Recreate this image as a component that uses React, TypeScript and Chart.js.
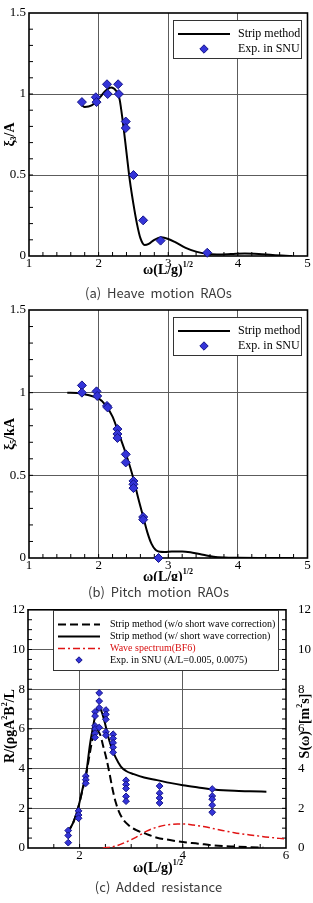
import React, { useEffect, useRef } from 'react';
import { Chart, registerables } from 'chart.js';

Chart.register(...registerables);

const SERIF = "'Liberation Serif', 'Times New Roman', serif";
const GRID = '#5c5c5c';
const BLUE = '#3434d8';
const BLUE_EDGE = '#15158a';
const W = 313;

// ---------- (a) Heave motion RAOs ----------
const heaveXTicks = [1, 2, 3, 4, 5];
const heaveYTicks = [0, 0.5, 1, 1.5];
const heaveStripX = [1.76, 1.8, 1.9, 2.0, 2.1, 2.18, 2.25, 2.3, 2.35, 2.4, 2.45, 2.5, 2.55, 2.6, 2.66, 2.72, 2.8, 2.9, 3.0, 3.1, 3.25, 3.4, 3.55, 3.7, 3.9, 4.1, 4.3, 4.5, 4.78];
const heaveStripY = [0.93, 0.92, 0.93, 0.97, 1.02, 1.04, 1.02, 0.97, 0.82, 0.64, 0.46, 0.32, 0.2, 0.11, 0.068, 0.075, 0.1, 0.115, 0.105, 0.085, 0.05, 0.027, 0.014, 0.01, 0.012, 0.015, 0.012, 0.006, 0];
const heaveExpX = [1.76, 1.96, 1.97, 2.12, 2.13, 2.28, 2.29, 2.39, 2.39, 2.5, 2.64, 2.89, 3.56];
const heaveExpY = [0.95, 0.98, 0.95, 1.06, 1.0, 1.06, 1.0, 0.83, 0.79, 0.5, 0.22, 0.095, 0.02];

// ---------- (b) Pitch motion RAOs ----------
const pitchStripX = [1.55, 1.7, 1.8, 1.9, 2.0, 2.1, 2.2, 2.3, 2.4, 2.5, 2.57, 2.64, 2.7, 2.76, 2.82, 2.88, 2.95, 3.05, 3.2, 3.35, 3.5, 3.65, 3.8, 4.0, 4.3, 4.8];
const pitchStripY = [1.0, 0.998, 0.99, 0.98, 0.965, 0.925, 0.855, 0.74, 0.62, 0.48, 0.36, 0.25, 0.155, 0.085, 0.048, 0.038, 0.037, 0.04, 0.04, 0.032, 0.02, 0.008, 0.003, 0.001, 0, 0];
const pitchExpX = [1.76, 1.76, 1.97, 1.98, 2.12, 2.13, 2.27, 2.27, 2.27, 2.39, 2.39, 2.5, 2.5, 2.5, 2.64, 2.64, 2.86];
const pitchExpY = [1.044, 1.0, 1.008, 0.98, 0.92, 0.91, 0.78, 0.75, 0.726, 0.627, 0.578, 0.466, 0.446, 0.423, 0.248, 0.232, 0.0];

// ---------- (c) Added resistance ----------
const resXTicks = [1, 2, 4, 6];
const resYTicks = [0, 2, 4, 6, 8, 10, 12];
const resNoCorrX = [1.76, 1.88, 1.98, 2.05, 2.13, 2.2, 2.26, 2.33, 2.4, 2.46, 2.52, 2.58, 2.64, 2.7, 2.76, 2.84, 2.95, 3.1, 3.3, 3.5, 3.75, 4.0, 4.3, 4.6, 5.0, 5.3, 5.56];
const resNoCorrY = [0.75, 1.3, 2.1, 2.85, 3.75, 4.8, 5.6, 5.95, 5.7, 5.1, 4.5, 3.75, 2.95, 2.3, 1.85, 1.45, 1.15, 0.9, 0.7, 0.52, 0.4, 0.3, 0.22, 0.13, 0.07, 0.04, 0.02];
const resCorrX = [1.76, 1.88, 1.98, 2.05, 2.13, 2.2, 2.26, 2.32, 2.37, 2.43, 2.5, 2.56, 2.62, 2.7, 2.8, 2.9, 3.05, 3.25, 3.5, 3.75, 4.0, 4.3, 4.6, 5.0, 5.3, 5.62];
const resCorrY = [0.75, 1.3, 2.1, 2.9, 3.8, 5.2, 6.1, 6.85, 7.1, 6.85, 6.2, 5.55, 5.05, 4.55, 4.1, 3.88, 3.72, 3.55, 3.42, 3.28, 3.16, 3.05, 2.95, 2.88, 2.86, 2.84];
const waveSpecX = [2.45, 2.7, 2.9, 3.1, 3.3, 3.5, 3.7, 3.9, 4.0, 4.2, 4.4, 4.7, 5.0, 5.3, 5.6, 6.0];
const waveSpecY = [0, 0.1, 0.3, 0.55, 0.85, 1.05, 1.17, 1.21, 1.21, 1.16, 1.08, 0.92, 0.77, 0.66, 0.56, 0.45];
const resExpX = [
  1.78, 1.78, 1.78,
  1.98, 1.98, 1.98,
  2.12, 2.12, 2.12,
  2.3, 2.3, 2.3, 2.3, 2.3, 2.3,
  2.38, 2.38, 2.38, 2.38,
  2.51, 2.51, 2.51, 2.51, 2.51,
  2.65, 2.65, 2.65, 2.65, 2.65,
  2.9, 2.9, 2.9, 2.9, 2.9,
  3.55, 3.55, 3.55, 3.55,
  4.57, 4.57, 4.57, 4.57, 4.57,
];
const resExpY = [
  0.88, 0.63, 0.27,
  1.87, 1.66, 1.5,
  3.62, 3.44, 3.26,
  6.86, 6.65, 6.15, 6.0, 5.78, 5.57,
  7.81, 7.4, 7.06, 6.07,
  6.95, 6.73, 6.48, 5.85, 5.68,
  5.73, 5.52, 5.3, 5.07, 4.82,
  3.41, 3.2, 3.0, 2.6, 2.36,
  3.12, 2.76, 2.52, 2.27,
  2.97, 2.62, 2.46, 2.16, 1.8,
];

const SOLID = { color: '#000', width: 2, dash: [] as number[] };
const DASHED = { color: '#000', width: 2, dash: [8, 4] };
const DASHDOT = { color: '#e01414', width: 1.5, dash: [7, 3, 2, 3] };

type Seg = { t: string; k?: 'sup' | 'sub' };
type Area = { left: number; right: number; top: number; bottom: number };
type Title = { segs: Seg[]; x: number; y: number; angle: number };
type LegendRow = { y: number; label: string; line?: typeof SOLID; radius?: number; color?: string };
type Legend = { box: number[]; sample: number[]; textX: number; size: number; rows: LegendRow[] };
type Minor = { axis: string; step: number };
type Decor = { titles: Title[]; minors: Minor[]; legend: Legend };

const pts = (xs: number[], ys: number[]) => xs.map((x, i) => ({ x, y: ys[i] }));

function drawRich(ctx: CanvasRenderingContext2D, segs: Seg[], cx: number, cy: number, size: number, angle: number) {
  ctx.save();
  ctx.translate(cx, cy);
  ctx.rotate(angle);
  ctx.fillStyle = '#000';
  ctx.textBaseline = 'middle';
  ctx.textAlign = 'left';
  const fontFor = (s: Seg) => `bold ${s.k ? Math.round(size * 0.6) : size}px ${SERIF}`;
  let w = 0;
  for (const s of segs) {
    ctx.font = fontFor(s);
    w += ctx.measureText(s.t).width;
  }
  let x = -w / 2;
  for (const s of segs) {
    ctx.font = fontFor(s);
    const dy = s.k === 'sup' ? -size * 0.38 : s.k === 'sub' ? size * 0.3 : 0;
    ctx.fillText(s.t, x, dy);
    x += ctx.measureText(s.t).width;
  }
  ctx.restore();
}

function diamond(ctx: CanvasRenderingContext2D, x: number, y: number, r: number) {
  ctx.beginPath();
  ctx.moveTo(x, y - r);
  ctx.lineTo(x + r, y);
  ctx.lineTo(x, y + r);
  ctx.lineTo(x - r, y);
  ctx.closePath();
  ctx.fillStyle = BLUE;
  ctx.fill();
  ctx.strokeStyle = BLUE_EDGE;
  ctx.lineWidth = 1;
  ctx.stroke();
}

function makeDecor(d: Decor) {
  return {
    id: 'decor',
    beforeDatasetsDraw(chart: any) {
      const ctx: CanvasRenderingContext2D = chart.ctx;
      const { left, right, top, bottom } = chart.chartArea;
      ctx.save();
      ctx.strokeStyle = '#000';
      ctx.lineWidth = 1;
      for (const m of d.minors) {
        const sc = chart.scales[m.axis];
        const n = Math.round((sc.max - sc.min) / m.step);
        ctx.beginPath();
        for (let i = 1; i < n; i++) {
          const p = sc.getPixelForValue(sc.min + i * m.step);
          if (m.axis === 'x') {
            ctx.moveTo(p, bottom);
            ctx.lineTo(p, bottom - 4);
          } else if (m.axis === 'y') {
            ctx.moveTo(left, p);
            ctx.lineTo(left + 4, p);
          } else {
            ctx.moveTo(right, p);
            ctx.lineTo(right - 4, p);
          }
        }
        ctx.stroke();
      }
      ctx.lineWidth = 1.6;
      ctx.strokeRect(left, top, right - left, bottom - top);
      ctx.restore();
    },
    afterDraw(chart: any) {
      const ctx: CanvasRenderingContext2D = chart.ctx;
      for (const t of d.titles) drawRich(ctx, t.segs, t.x, t.y, 14, t.angle);
      const lg = d.legend;
      const [x0, y0, x1, y1] = lg.box;
      ctx.save();
      ctx.fillStyle = '#fff';
      ctx.fillRect(x0, y0, x1 - x0, y1 - y0);
      ctx.strokeStyle = '#333';
      ctx.lineWidth = 1;
      ctx.strokeRect(x0 + 0.5, y0 + 0.5, x1 - x0, y1 - y0);
      for (const r of lg.rows) {
        if (r.line) {
          ctx.setLineDash(r.line.dash);
          ctx.strokeStyle = r.line.color;
          ctx.lineWidth = r.line.width;
          ctx.beginPath();
          ctx.moveTo(lg.sample[0], r.y);
          ctx.lineTo(lg.sample[1], r.y);
          ctx.stroke();
          ctx.setLineDash([]);
        } else {
          diamond(ctx, (lg.sample[0] + lg.sample[1]) / 2, r.y, r.radius || 4);
        }
        ctx.font = `${lg.size}px ${SERIF}`;
        ctx.fillStyle = r.color || '#000';
        ctx.textBaseline = 'middle';
        ctx.textAlign = 'left';
        ctx.fillText(r.label, lg.textX, r.y);
      }
      ctx.restore();
    },
  };
}

const tickFont = { family: SERIF, size: 13 };

function xScale(H: number, area: Area, min: number, max: number, ticks: number[]) {
  return {
    type: 'linear',
    min,
    max,
    afterBuildTicks: (s: any) => {
      s.ticks = ticks.map((v) => ({ value: v }));
    },
    afterFit: (s: any) => {
      s.height = H - area.bottom;
    },
    grid: {
      drawTicks: false,
      lineWidth: 1,
      color: (c: any) => (c.tick && (c.tick.value === min || c.tick.value === max) ? 'rgba(0,0,0,0)' : GRID),
    },
    border: { display: false },
    ticks: {
      font: tickFont,
      color: '#000',
      padding: 0,
      maxRotation: 0,
      autoSkip: false,
      callback: (v: number) => (v === 1 && max === 6 ? '' : String(v)),
    },
  };
}

function yScale(area: Area, min: number, max: number, ticks: number[], right = false) {
  return {
    type: 'linear',
    position: right ? 'right' : 'left',
    min,
    max,
    afterBuildTicks: (s: any) => {
      s.ticks = ticks.map((v) => ({ value: v }));
    },
    afterFit: (s: any) => {
      s.width = right ? W - area.right : area.left;
    },
    grid: right
      ? { display: false }
      : {
          drawTicks: false,
          lineWidth: 1,
          color: (c: any) => (c.tick && (c.tick.value === min || c.tick.value === max) ? 'rgba(0,0,0,0)' : GRID),
        },
    border: { display: false },
    ticks: {
      font: tickFont,
      color: '#000',
      padding: right ? 4 : 3,
      autoSkip: false,
      callback: (v: number) => String(v),
    },
  };
}

function curve(label: string, xs: number[], ys: number[], st: typeof SOLID, extra: any = {}) {
  return {
    label,
    data: pts(xs, ys),
    showLine: true,
    borderColor: st.color,
    borderWidth: st.width,
    borderDash: st.dash,
    pointRadius: 0,
    cubicInterpolationMode: 'monotone',
    order: 1,
    ...extra,
  };
}

function marks(label: string, xs: number[], ys: number[], r: number) {
  return {
    label,
    data: pts(xs, ys),
    showLine: false,
    pointStyle: 'rectRot',
    pointRadius: r,
    backgroundColor: BLUE,
    borderColor: BLUE_EDGE,
    borderWidth: 1,
    clip: false,
    order: 0,
  };
}

const omegaTitle: Seg[] = [{ t: 'ω(L/g)' }, { t: '1/2', k: 'sup' }];

function raoConfig(H: number, area: Area, strip: number[][], exp: number[][], yTitle: Seg[], titleY: number) {
  const decor: Decor = {
    titles: [
      { segs: omegaTitle, x: 168, y: titleY, angle: 0 },
      { segs: yTitle, x: 10, y: (area.top + area.bottom) / 2, angle: -Math.PI / 2 },
    ],
    minors: [
      { axis: 'x', step: 0.2 },
      { axis: 'y', step: 0.1 },
    ],
    legend: {
      box: [173, area.top + 7, 301, area.top + 45],
      sample: [178, 230],
      textX: 238,
      size: 12,
      rows: [
        { y: area.top + 21, label: 'Strip method', line: SOLID },
        { y: area.top + 36, label: 'Exp. in SNU', radius: 4.2 },
      ],
    },
  };
  return {
    type: 'scatter',
    data: {
      datasets: [marks('Exp. in SNU', exp[0], exp[1], 4.5), curve('Strip method', strip[0], strip[1], SOLID)],
    },
    options: {
      animation: false,
      responsive: false,
      events: [],
      layout: { padding: { left: 0, top: area.top, right: W - area.right, bottom: 0 } },
      plugins: { legend: { display: false }, tooltip: { enabled: false } },
      scales: {
        x: xScale(H, area, 1, 5, heaveXTicks),
        y: yScale(area, 0, 1.5, heaveYTicks),
      },
    },
    plugins: [makeDecor(decor)],
  };
}

function resistanceConfig(H: number, area: Area) {
  const decor: Decor = {
    titles: [
      { segs: omegaTitle, x: 158, y: 270, angle: 0 },
      {
        segs: [{ t: 'R/(ρgA' }, { t: '2', k: 'sup' }, { t: 'B' }, { t: '2', k: 'sup' }, { t: '/L' }],
        x: 10,
        y: 128,
        angle: -Math.PI / 2,
      },
      { segs: [{ t: 'S(ω)  [m' }, { t: '2', k: 'sup' }, { t: 's]' }], x: 305, y: 128, angle: -Math.PI / 2 },
    ],
    minors: [
      { axis: 'x', step: 0.5 },
      { axis: 'y', step: 0.5 },
      { axis: 'y2', step: 0.5 },
    ],
    legend: {
      box: [53, 12, 278, 72],
      sample: [58, 100],
      textX: 110,
      size: 10,
      rows: [
        { y: 26.5, label: 'Strip method (w/o short wave correction)', line: DASHED },
        { y: 38.5, label: 'Strip method (w/ short wave correction)', line: SOLID },
        { y: 50.5, label: 'Wave spectrum(BF6)', line: DASHDOT, color: '#d81010' },
        { y: 62, label: 'Exp. in SNU (A/L=0.005, 0.0075)', radius: 3.2 },
      ],
    },
  };
  return {
    type: 'scatter',
    data: {
      datasets: [
        marks('Exp. in SNU (A/L=0.005, 0.0075)', resExpX, resExpY, 3.4),
        curve('Strip method (w/o short wave correction)', resNoCorrX, resNoCorrY, DASHED),
        curve('Strip method (w/ short wave correction)', resCorrX, resCorrY, SOLID),
        curve('Wave spectrum(BF6)', waveSpecX, waveSpecY, DASHDOT, { yAxisID: 'y2' }),
      ],
    },
    options: {
      animation: false,
      responsive: false,
      events: [],
      layout: { padding: { left: 0, top: area.top, right: 0, bottom: 0 } },
      plugins: { legend: { display: false }, tooltip: { enabled: false } },
      scales: {
        x: xScale(H, area, 1, 6, resXTicks),
        y: yScale(area, 0, 12, resYTicks),
        y2: yScale(area, 0, 12, resYTicks, true),
      },
    },
    plugins: [makeDecor(decor)],
  };
}

function Panel({ top, height, build }: { top: number; height: number; build: () => any }) {
  const ref = useRef<HTMLCanvasElement>(null);
  useEffect(() => {
    const chart = new Chart(ref.current as HTMLCanvasElement, build());
    return () => chart.destroy();
  }, []);
  return (
    <canvas
      ref={ref}
      width={W}
      height={height}
      style={{ position: 'absolute', left: 0, top, width: W, height }}
    />
  );
}

function Caption({ y, text }: { y: number; text: string }) {
  return (
    <div
      style={{
        position: 'absolute',
        left: 2,
        top: y - 10,
        width: W,
        height: 20,
        lineHeight: '20px',
        textAlign: 'center',
        fontFamily: "'Noto Sans CJK KR', 'Noto Sans', sans-serif",
        fontSize: 13,
        color: '#3a3a3a',
        whiteSpace: 'pre',
      }}
    >
      {text}
    </div>
  );
}

export default function App() {
  const heaveArea = { left: 29, right: 308, top: 13, bottom: 256 };
  const pitchArea = { left: 29, right: 308, top: 14, bottom: 262 };
  const resArea = { left: 28, right: 286, top: 10, bottom: 250 };
  return (
    <div style={{ position: 'absolute', left: 0, top: 0, width: W, height: 903, background: '#fff', overflow: 'hidden' }}>
      <Panel
        top={0}
        height={285}
        build={() =>
          raoConfig(285, heaveArea, [heaveStripX, heaveStripY], [heaveExpX, heaveExpY], [{ t: 'ξ' }, { t: '3', k: 'sub' }, { t: '/A' }], 270)
        }
      />
      <Caption y={293} text="(a)  Heave  motion  RAOs" />
      <Panel
        top={296}
        height={285}
        build={() =>
          raoConfig(285, pitchArea, [pitchStripX, pitchStripY], [pitchExpX, pitchExpY], [{ t: 'ξ' }, { t: '5', k: 'sub' }, { t: '/kA' }], 281)
        }
      />
      <Caption y={592} text="(b)  Pitch  motion  RAOs" />
      <Panel top={598} height={305} build={() => resistanceConfig(305, resArea)} />
      <Caption y={887} text="(c)  Added  resistance" />
    </div>
  );
}
